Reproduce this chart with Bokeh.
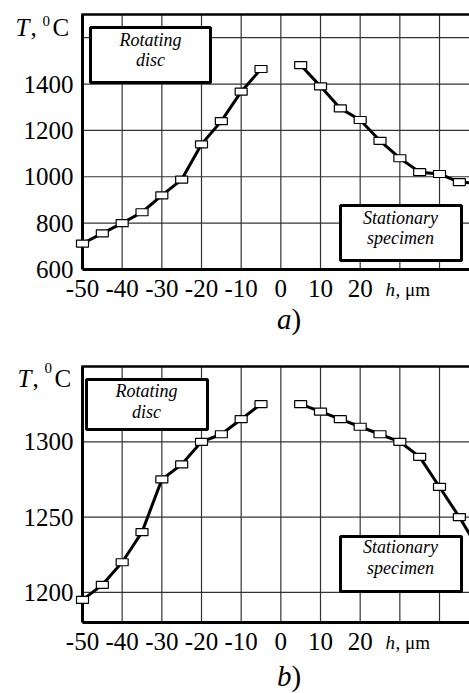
from bokeh.plotting import figure
from bokeh.models import FixedTicker, Label, BoxAnnotation
from bokeh.layouts import column
from bokeh.embed import file_html
from bokeh.resources import INLINE

# ---------------- data ----------------
h_left = [-50, -45, -40, -35, -30, -25, -20, -15, -10, -5]
h_right = [5, 10, 15, 20, 25, 30, 35, 40, 45, 50]
Ta_left = [712, 756, 800, 847, 920, 988, 1140, 1240, 1367, 1465]
Ta_right = [1482, 1390, 1295, 1245, 1155, 1080, 1020, 1012, 977, 972]
Tb_left = [1195, 1205, 1220, 1240, 1275, 1285, 1300, 1305, 1315, 1325]
Tb_right = [1325, 1320, 1315, 1310, 1305, 1300, 1290, 1270, 1250, 1228]
x_ticks = [-50, -40, -30, -20, -10, 0, 10, 20, 30, 40]
x_tick_labels = ["-50", "-40", "-30", "-20", "-10", "0", "10", "20", "", ""]
ya_ticks = [600, 800, 1000, 1200, 1400, 1600]
ya_tick_labels = ["600", "800", "1000", "1200", "1400", ""]
yb_ticks = [1200, 1250, 1300]
yb_tick_labels = ["1200", "1250", "1300"]

FONT = "Liberation Serif"
X0, X1 = -50, 47.56          # visible h-range of the plotting area
PAGE_W = 469
FRAME_L = 82                 # px of the left axis
BASE_FIX = 0.34              # baseline correction, in em


def make_panel(fig_top, fig_h, frame_top, frame_bot, y0, y1, y_ticks,
               y_labels, TL, TR, letter, boxes, ylab, letter_base):
    kx = (X1 - X0) / (PAGE_W - FRAME_L)
    ky = (y1 - y0) / (frame_bot - frame_top)

    def fx(px):
        return X0 + (px - FRAME_L) * kx

    def fy(py):
        return y0 + (frame_bot - py) * ky

    def lab(px, base_py, text, size, italic=False, align="left"):
        p.add_layout(Label(x=fx(px), y=fy(base_py - BASE_FIX * size),
                           text=text, text_align=align,
                           text_baseline="alphabetic", text_font=FONT,
                           text_font_style="italic" if italic else "normal",
                           text_font_size=f"{size}px", text_color="black"))

    p = figure(width=PAGE_W, height=fig_h,
               x_range=(fx(0), fx(PAGE_W)),
               y_range=(fy(fig_top + fig_h), fy(fig_top)),
               output_backend="svg", toolbar_location=None,
               min_border=0, min_border_left=0, min_border_right=0,
               min_border_top=0, min_border_bottom=0,
               background_fill_color="white", border_fill_color="white",
               outline_line_color=None)
    p.xgrid.visible = False
    p.ygrid.visible = False

    for ax in (p.xaxis, p.yaxis):
        ax.axis_line_width = 3
        ax.axis_line_color = "black"
        ax.major_tick_line_color = None
        ax.minor_tick_line_color = None
        ax.major_label_text_font = FONT
        ax.major_label_text_font_size = "25px"
        ax.major_label_text_color = "black"
    p.xaxis.major_label_standoff = 4
    p.yaxis.major_label_standoff = 3
    p.xaxis.fixed_location = y0
    p.yaxis.fixed_location = X0
    p.xaxis.bounds = (X0, X1)
    p.yaxis.bounds = (y0, y1)
    p.xaxis.ticker = FixedTicker(ticks=x_ticks)
    p.xaxis.major_label_overrides = dict(zip(x_ticks, x_tick_labels))
    p.yaxis.ticker = FixedTicker(ticks=y_ticks)
    p.yaxis.major_label_overrides = dict(zip(y_ticks, y_labels))

    # grid lines limited to the plotting area
    gx = [t for t in x_ticks if t != X0]
    p.segment(x0=gx, y0=[y0] * len(gx), x1=gx, y1=[y1] * len(gx),
              line_color="#333333", line_width=1.2)
    gy = [t for t in y_ticks if t != y0]
    p.segment(x0=[X0] * len(gy), y0=gy, x1=[X1] * len(gy), y1=gy,
              line_color="#333333", line_width=1.2)
    # top border
    p.segment(x0=[X0 - 0.3], y0=[y1], x1=[X1], y1=[y1],
              line_color="black", line_width=2.5)

    for xs, ys in ((h_left, TL), (h_right, TR)):
        p.line(xs, ys, line_width=3, line_color="black", level="overlay")
        p.rect(xs, ys, width=12, height=7, width_units="screen",
               height_units="screen", fill_color="white",
               line_color="black", line_width=1.2, level="overlay")

    # text boxes
    for (l, r, t, b, cx, lines) in boxes:
        p.add_layout(BoxAnnotation(left=fx(l), right=fx(r), top=fy(t),
                                   bottom=fy(b), fill_color="white",
                                   fill_alpha=1, line_color="black",
                                   line_width=3, line_alpha=1))
        for txt, base in lines:
            lab(cx, base, txt, 18, italic=True, align="center")

    # y axis title  T, 0C
    tx, tb, sb = ylab
    lab(tx, tb, "T", 25, italic=True)
    lab(tx + 15, tb, ",", 25)
    lab(tx + 27, sb, "0", 15)
    lab(tx + 37, tb, "C", 25)

    # x axis title  h, μm
    hb = frame_bot + 26
    lab(385, hb, "h", 19, italic=True)
    lab(395, hb, ", \u03bcm", 19)

    # panel letter
    lab(291, letter_base, letter, 29, italic=True, align="right")
    lab(291, letter_base, ")", 29)
    return p


pa = make_panel(0, 345, 14, 269, 600, 1700, ya_ticks, ya_tick_labels,
                Ta_left, Ta_right, "a",
                [(90, 210, 27, 82, 150, [("Rotating", 46), ("disc", 66)]),
                 (340, 461, 205, 260, 400, [("Stationary", 224),
                                            ("specimen", 244)])],
                (15, 35, 26), 328)
pb = make_panel(345, 348, 366, 622, 1180, 1350, yb_ticks, yb_tick_labels,
                Tb_left, Tb_right, "b",
                [(86, 207, 379, 429, 146, [("Rotating", 397), ("disc", 418)]),
                 (340, 461, 536, 591, 400, [("Stationary", 553),
                                            ("specimen", 574)])],
                (17, 386, 373), 685)

layout = column(pa, pb, spacing=0)
open("out.html", "w").write(file_html(layout, INLINE))
